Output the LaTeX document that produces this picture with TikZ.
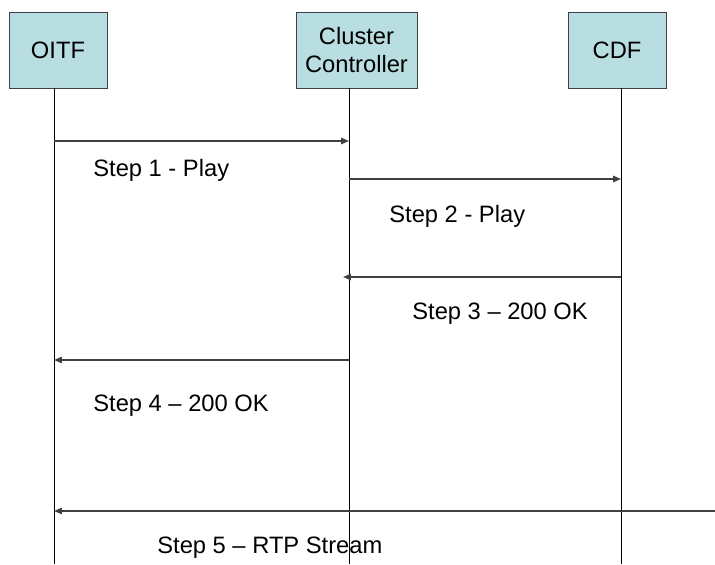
\documentclass[tikz,border=0pt]{standalone}
\usepackage{fontspec}
\setmainfont{Liberation Sans}
\usetikzlibrary{arrows.meta}
\definecolor{boxfill}{RGB}{185,222,225}
\definecolor{msgline}{RGB}{64,64,64}

\begin{document}
\begin{tikzpicture}[x=0.02cm, y=-0.02cm, >={Triangle[length=4.5pt,width=3.6pt]},
    % Stil für die Teilnehmer (Kästen oben)
        party/.style={rectangle, draw=black!75, fill=boxfill, minimum height=1.52cm, inner sep=0pt, align=center, font=\fontsize{13.5}{16}\selectfont},
    % Stil für die Lebenslinien
        lifeline/.style={draw=black, line width=0.45pt},
    % Stil für die Nachrichten
        message/.style={->, draw=msgline, line width=0.9pt},
    % Stil für die Beschriftungen der Nachrichten
        steplabel/.style={anchor=base west, inner sep=0pt, font=\fontsize{13.5}{16}\selectfont}]

        \useasboundingbox (0,0) rectangle (715,564);

        % Teilnehmer definieren
        \node[party, minimum width=1.96cm] (oitf) at (58,50) {OITF};
        \node[party, minimum width=2.42cm] (cc) at (356.5,50) {Cluster\\Controller};
        \node[party, minimum width=1.96cm] (cdf) at (617,50) {CDF};

        % Endpunkte der Lebenslinien
        \coordinate (oitfTop) at (54,88);
        \coordinate (oitfEnd) at (54,564);
        \coordinate (ccTop) at (349,88);
        \coordinate (ccEnd) at (349,564);
        \coordinate (cdfTop) at (621,88);
        \coordinate (cdfEnd) at (621,564);

        % Lebenslinien zeichnen
        \draw[lifeline] (oitfTop) -- (oitfEnd);
        \draw[lifeline] (ccTop) -- (ccEnd);
        \draw[lifeline] (cdfTop) -- (cdfEnd);

        % Punkte für die Nachrichten
        \coordinate (s1a) at (54,141);
        \coordinate (s1b) at (349,141);
        \coordinate (s2a) at (349,179);
        \coordinate (s2b) at (621,179);
        \coordinate (s3a) at (621,277);
        \coordinate (s3b) at (343,277);
        \coordinate (s4a) at (349,360);
        \coordinate (s4b) at (54,360);
        \coordinate (s5a) at (715,511);
        \coordinate (s5b) at (54,511);

        % Nachrichten zeichnen
        \draw[message] (s1a) -- (s1b);
        \draw[message] (s2a) -- (s2b);
        \draw[message] (s3a) -- (s3b);
        \draw[message] (s4a) -- (s4b);
        \draw[message] (s5a) -- (s5b);

        % Beschriftungen
        \node[steplabel] (l1) at (93,176) {Step 1 - Play};
        \node[steplabel] (l2) at (389,222) {Step 2 - Play};
        \node[steplabel] (l3) at (412,319) {Step 3 – 200 OK};
        \node[steplabel] (l4) at (93,411) {Step 4 – 200 OK};
        \node[steplabel] (l5) at (157,553) {Step 5 – RTP Stream};
    \end{tikzpicture}
\end{document}
